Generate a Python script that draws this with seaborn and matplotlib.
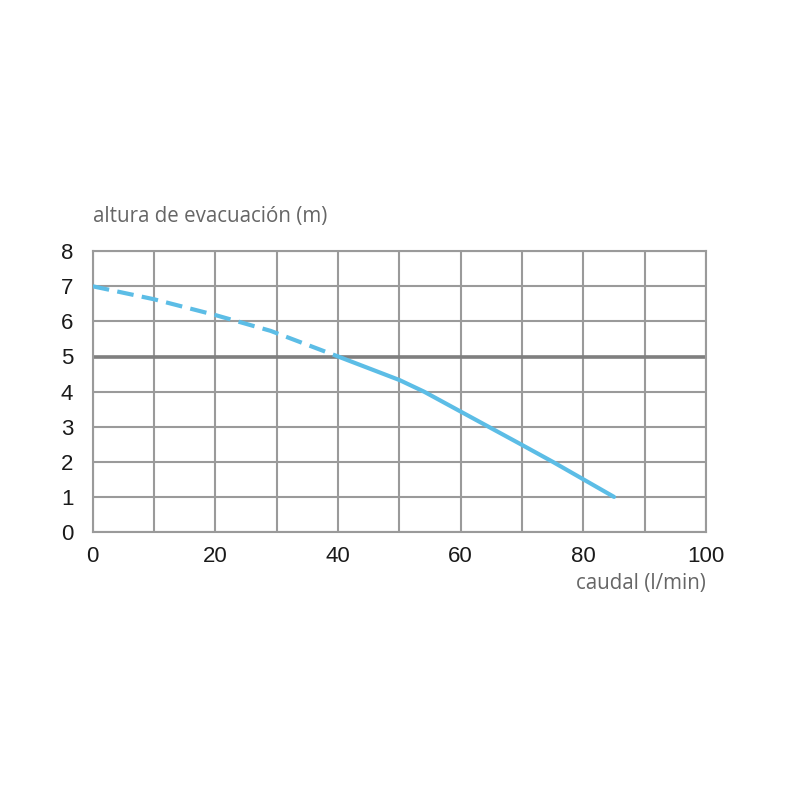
import pandas as pd
import numpy as np
import matplotlib
matplotlib.use('Agg')
import matplotlib.pyplot as plt
import seaborn as sns

# curva de la bomba
caudal_dash = [0, 10, 20, 29, 40]
altura_dash = [7.0, 6.63, 6.18, 5.73, 5.0]
caudal_solid = [40, 50, 54, 60, 64, 70, 75, 80, 85]
altura_solid = [5.0, 4.33, 4.0, 3.43, 3.05, 2.48, 2.0, 1.5, 1.0]

x_ticks = [0, 20, 40, 60, 80, 100]
y_ticks = [0, 1, 2, 3, 4, 5, 6, 7, 8]

df_dash = pd.DataFrame({'caudal': caudal_dash, 'altura': altura_dash})
df_solid = pd.DataFrame({'caudal': caudal_solid, 'altura': altura_solid})

sns.set_style('white')
plt.rcParams['font.family'] = ['Liberation Sans', 'DejaVu Sans']

fig = plt.figure(figsize=(8, 8), dpi=100)
ax = fig.add_axes([0.116, 0.335, 0.7665, 0.351])

color_curve = '#5cbde6'
grid_color = '#9a9a9a'

# rejilla
for xv in range(0, 101, 10):
    ax.axvline(xv, color=grid_color, lw=1.5, zorder=1)
for yv in y_ticks:
    ax.axhline(yv, color=grid_color, lw=1.5, zorder=1)
ax.axhline(5, color='#7f7f7f', lw=2.6, zorder=2)

sns.lineplot(data=df_dash, x='caudal', y='altura', ax=ax, color=color_curve,
             lw=3, linestyle=(0, (4, 2)), zorder=3)
sns.lineplot(data=df_solid, x='caudal', y='altura', ax=ax, color=color_curve,
             lw=3, zorder=3)

ax.set_xlim(0, 100)
ax.set_ylim(0, 8)
ax.set_xticks(x_ticks)
ax.set_yticks(y_ticks)
ax.tick_params(axis='both', length=0, labelsize=16, colors='#1a1a1a')
ax.tick_params(axis='x', pad=10)
ax.tick_params(axis='y', pad=14)
for s in ax.spines.values():
    s.set_color(grid_color)
    s.set_linewidth(1.5)

ax.set_xlabel('')
ax.set_ylabel('')
fig.text(0.116, 0.729, 'altura de evacuación (m)', fontsize=14.8, color='#666666',
         family=['Open Sans', 'DejaVu Sans'], ha='left', va='center')
fig.text(0.8825, 0.271, 'caudal (l/min)', fontsize=14.8, color='#666666',
         family=['Open Sans', 'DejaVu Sans'], ha='right', va='center')

plt.savefig('out.png', dpi=100)
